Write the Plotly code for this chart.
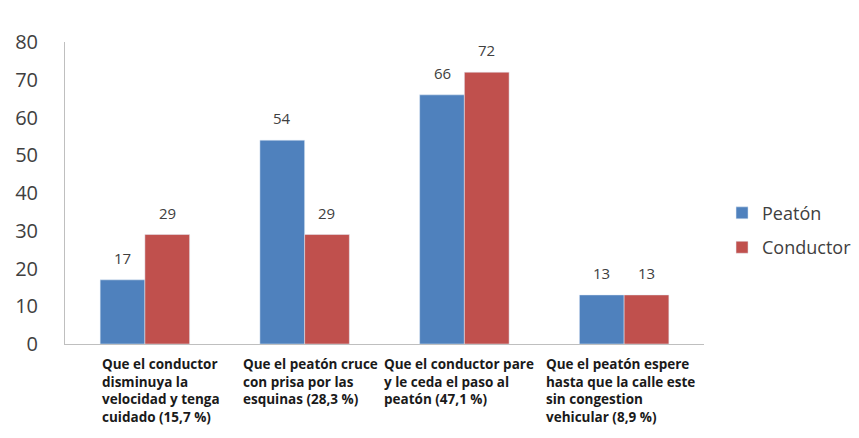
import plotly.graph_objects as go

# Survey answers (percent of respondents) by group
categorias = [
    "Que el conductor<br>disminuya la<br>velocidad y tenga<br>cuidado (15,7 %)",
    "Que el peatón cruce<br>con prisa por las<br>esquinas (28,3 %)",
    "Que el conductor pare<br>y le ceda el paso al<br>peatón (47,1 %)",
    "Que el peatón espere<br>hasta que la calle este<br>sin congestion<br>vehicular (8,9 %)",
]
peaton = [17, 54, 66, 13]
conductor = [29, 29, 72, 13]
y_ticks = [0, 10, 20, 30, 40, 50, 60, 70, 80]

AZUL = "#4F81BD"
ROJO = "#C0504D"
TEXTO = "#404040"

x_idx = list(range(len(categorias)))

fig = go.Figure()
fig.add_trace(go.Bar(x=x_idx, y=peaton, name="Peatón", marker_color=AZUL,
                     legendgroup="p"))
fig.add_trace(go.Bar(x=x_idx, y=conductor, name="Conductor", marker_color=ROJO,
                     legendgroup="c"))

# Value labels above each bar (bars are offset by a quarter group width)
BAR_OFFSET = 0.14
for serie, dx in ((peaton, -BAR_OFFSET), (conductor, BAR_OFFSET)):
    for i, v in enumerate(serie):
        fig.add_annotation(
            x=i + dx, y=v, xref="x", yref="y", yanchor="bottom", xanchor="center",
            yshift=10, text=str(v), showarrow=False,
            font=dict(size=15, color=TEXTO, family="Open Sans"),
        )

# Category labels: multi-line, left-aligned blocks under each group
label_nudge = [16, 6, -5, -4]
for i, lab in enumerate(categorias):
    fig.add_annotation(
        x=i, y=0, xref="x", yref="paper", yanchor="top", xanchor="center",
        yshift=-9, xshift=label_nudge[i], text="<b>" + lab + "</b>",
        showarrow=False, align="left",
        font=dict(size=13.5, color="#1a1a1a", family="Open Sans"),
    )

# Plot area occupies the left part of the paper; the legend sits to its right
fig.update_layout(
    width=859, height=438,
    margin=dict(l=65, r=0, t=42, b=94),
    paper_bgcolor="white", plot_bgcolor="white",
    barmode="group", bargap=0.44, bargroupgap=0,
    showlegend=True,
    legend=dict(
        x=0.8275, y=0.377, xanchor="left", yanchor="middle",
        font=dict(size=18, color=TEXTO, family="Open Sans"),
        tracegroupgap=8, itemwidth=30,
    ),
    xaxis=dict(
        domain=[0, 0.8048],
        range=[-0.5, 3.5], tickvals=x_idx, showticklabels=False,
        showline=True, linecolor="#BFBFBF", linewidth=1, showgrid=False,
        zeroline=False, ticks="",
    ),
    yaxis=dict(
        range=[0, 80], tickvals=y_ticks, showgrid=False, zeroline=False,
        showline=True, linecolor="#BFBFBF", linewidth=1, ticks="",
        ticklabelstandoff=22,
        tickfont=dict(size=20, color=TEXTO, family="Open Sans"),
    ),
)

fig.write_html("out.html")
